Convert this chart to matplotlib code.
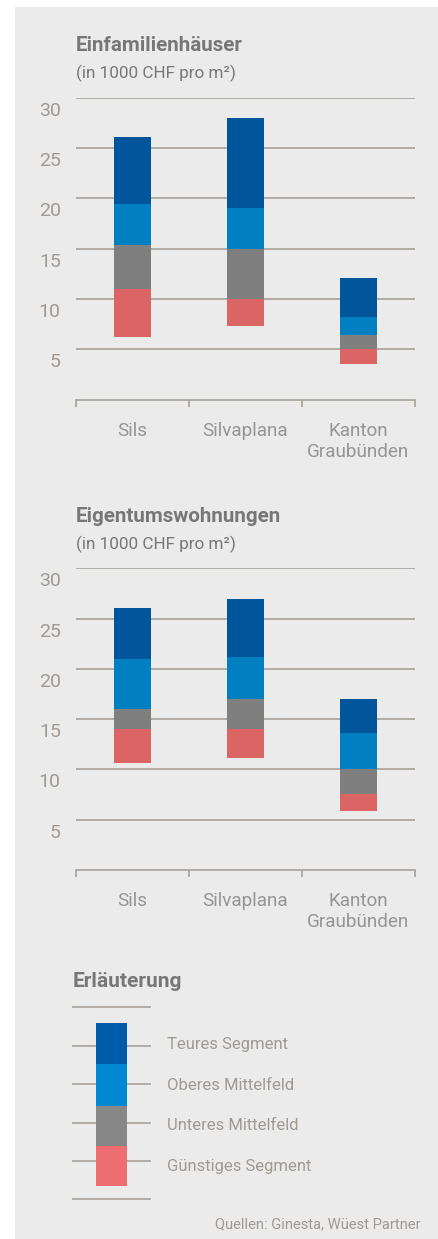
import matplotlib
matplotlib.use('Agg')
import matplotlib.pyplot as plt
from matplotlib.patches import Rectangle
from matplotlib.transforms import ScaledTranslation

plt.rcParams['font.family'] = ['Roboto', 'DejaVu Sans']

# data (in 1000 CHF pro m2), segment bounds per category
categories = ['Sils', 'Silvaplana', 'Kanton\nGraubünden']
segments = ['Teures Segment', 'Oberes Mittelfeld', 'Unteres Mittelfeld', 'Günstiges Segment']

efh_min = [6.2, 7.3, 3.5]
efh_guenstig = [11.0, 10.0, 5.0]
efh_unteres = [15.4, 15.0, 6.4]
efh_oberes = [19.4, 19.0, 8.2]
efh_teures = [26.1, 28.0, 12.1]

etw_min = [10.6, 11.1, 5.9]
etw_guenstig = [14.0, 14.0, 7.6]
etw_unteres = [16.0, 17.0, 10.0]
etw_oberes = [21.0, 21.2, 13.6]
etw_teures = [26.1, 26.9, 17.0]

yticks = [5, 10, 15, 20, 25, 30]

bar_colors = ['#00559b', '#0080c0', '#7f7f7f', '#db6464']  # teuer -> guenstig
legend_colors = ['#005baa', '#0088d2', '#878787', '#ed6d70']
bg = '#ebebeb'
line_col = '#aca69f'
tick_col = '#a19a93'
cat_col = '#959595'
title_col = '#777777'

W, H = 438, 1239
fig = plt.figure(figsize=(W / 100, H / 100), dpi=100)
fig.patch.set_facecolor('white')

# background panel + legend drawn in pixel coords
over = fig.add_axes([0, 0, 1, 1], zorder=0)
over.set_xlim(0, W)
over.set_ylim(H, 0)
over.axis('off')
over.add_patch(Rectangle((15, 7), W - 15, H - 7, facecolor=bg, edgecolor='none'))


def px_axes(left, top, right, bottom):
    return fig.add_axes([left / W, 1 - bottom / H, (right - left) / W, (bottom - top) / H], zorder=1)


def draw_chart(ax, lows, g, u, o, t, title, top_px):
    bounds = [o, u, g, lows]
    tops = [t, o, u, g]
    x = range(len(categories))
    for i in range(4):
        heights = [tops[i][k] - bounds[i][k] for k in x]
        ax.bar(x, heights, bottom=bounds[i], width=0.336, color=bar_colors[i], zorder=3)
    for v in yticks:
        ax.axhline(v, color=line_col, lw=1.3, zorder=1)
    ax.set_facecolor('none')
    ax.set_xlim(-0.5, 2.5)
    ax.set_ylim(0, 30)
    for s in ['top', 'right', 'left']:
        ax.spines[s].set_visible(False)
    ax.spines['bottom'].set_color(line_col)
    ax.spines['bottom'].set_linewidth(1.3)
    ax.set_yticks(yticks)
    ax.set_yticklabels([str(v) for v in yticks])
    ax.tick_params(axis='y', length=0, pad=11, labelsize=14, labelcolor=tick_col)
    for lab in ax.get_yticklabels():
        lab.set_transform(lab.get_transform() + ScaledTranslation(0, -0.11, fig.dpi_scale_trans))
    ax.set_xticks([0, 1, 2])
    ax.set_xticklabels(categories, linespacing=1.2)
    ax.set_xticks([-0.5, 0.5, 1.5, 2.5], minor=True)
    ax.tick_params(axis='x', which='major', length=0, pad=16, labelsize=13.6, labelcolor=cat_col)
    ax.tick_params(axis='x', which='minor', length=5, width=1.3, color=line_col, direction='out')
    over.text(76, top_px - 52, title, fontsize=14.8, fontweight='bold', color=title_col, va='center', ha='left')
    over.text(76, top_px - 24, '(in 1000 CHF pro m²)', fontsize=12.3, color=title_col, va='center', ha='left')


ax1 = px_axes(76, 97.5, 415, 399.7)
draw_chart(ax1, efh_min, efh_guenstig, efh_unteres, efh_oberes, efh_teures, 'Einfamilienhäuser', 97.5)
ax2 = px_axes(76, 568.3, 415, 870)
draw_chart(ax2, etw_min, etw_guenstig, etw_unteres, etw_oberes, etw_teures, 'Eigentumswohnungen', 568.3)

# legend
over.text(73, 981.7, 'Erläuterung', fontsize=15, fontweight='bold', color=title_col, va='center', ha='left')
for y in [1007, 1045.7, 1084.3, 1122.7, 1161, 1199.3]:
    over.plot([73, 150], [y, y], color=line_col, lw=1.3)
seg_edges = [1023, 1064, 1106, 1145.7, 1185.7]
label_y = [1044.3, 1085.7, 1126, 1167]
for i, name in enumerate(segments):
    over.add_patch(Rectangle((96, seg_edges[i]), 31, seg_edges[i + 1] - seg_edges[i],
                             facecolor=legend_colors[i], edgecolor='none', zorder=3))
    over.text(166.7, label_y[i], name, fontsize=12, color=tick_col, va='center', ha='left')

over.text(421, 1224, 'Quellen: Ginesta, Wüest Partner', fontsize=10.6, color=tick_col, va='center', ha='right')

fig.savefig('out.png', dpi=100)
